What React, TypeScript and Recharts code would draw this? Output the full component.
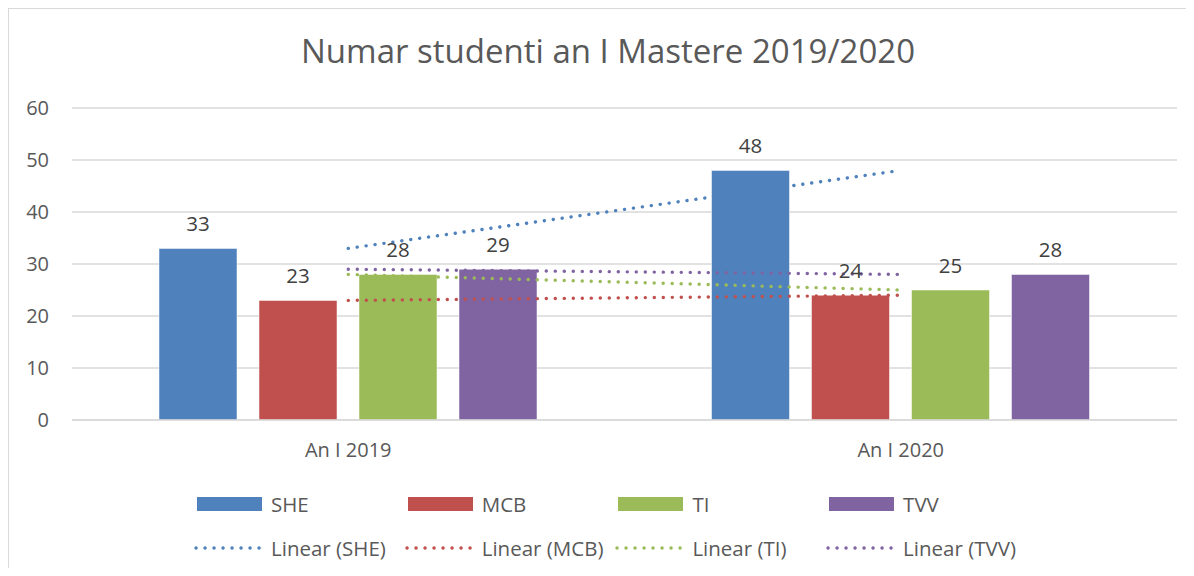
import React from 'react';
import { ComposedChart, Bar, Line, XAxis, YAxis, CartesianGrid, LabelList } from 'recharts';

const categories = ['An I 2019', 'An I 2020'];
const seriesNames = ['SHE', 'MCB', 'TI', 'TVV'];
const sheValues = [33, 48];
const mcbValues = [23, 24];
const tiValues = [28, 25];
const tvvValues = [29, 28];
const yTicks = [0, 10, 20, 30, 40, 50, 60];

const COLORS = ['#4F81BD', '#C0504D', '#9BBB59', '#8064A2']; // Office 2010 palette
const FONT = '"Open Sans", sans-serif';
const DOTS = '0.1 8.9';

// linear trend through the points (with two categories it passes through both values)
const linearFit = (vals: number[]) => {
  const n = vals.length;
  const xs = vals.map((_, i) => i + 1);
  const mx = xs.reduce((a, b) => a + b, 0) / n;
  const my = vals.reduce((a, b) => a + b, 0) / n;
  let num = 0;
  let den = 0;
  xs.forEach((x, i) => {
    num += (x - mx) * (vals[i] - my);
    den += (x - mx) * (x - mx);
  });
  const slope = den === 0 ? 0 : num / den;
  return xs.map((x) => my + slope * (x - mx));
};

const allValues = [sheValues, mcbValues, tiValues, tvvValues];
const keys = ['she', 'mcb', 'ti', 'tvv'];

const data = categories.map((cat, i) => {
  const row: Record<string, string | number> = { name: cat };
  keys.forEach((k, s) => {
    row[k] = allValues[s][i];
    row[k + 'Trend'] = linearFit(allValues[s])[i];
  });
  return row;
});

const Legend2 = () => (
  <>
    {seriesNames.map((name, i) => (
      <React.Fragment key={name}>
        <div
          style={{
            position: 'absolute',
            left: 188 + i * 210.7,
            top: 488,
            width: 65,
            height: 14,
            background: COLORS[i],
          }}
        />
        <div
          style={{
            position: 'absolute',
            left: 262 + i * 210.7,
            top: 480,
            height: 30,
            lineHeight: '30px',
            fontSize: 20.5,
            color: '#595959',
            fontFamily: FONT,
            whiteSpace: 'nowrap',
          }}
        >
          {name}
        </div>
        <svg
          style={{ position: 'absolute', left: 184 + i * 210.7, top: 533 }}
          width={70}
          height={12}
        >
          <line
            x1={3}
            y1={6}
            x2={68}
            y2={6}
            stroke={COLORS[i]}
            strokeWidth={3.4}
            strokeLinecap="round"
            strokeDasharray={DOTS}
          />
        </svg>
        <div
          style={{
            position: 'absolute',
            left: 262 + i * 210.7,
            top: 524,
            height: 30,
            lineHeight: '30px',
            fontSize: 20.5,
            color: '#595959',
            fontFamily: FONT,
            whiteSpace: 'nowrap',
          }}
        >
          {`Linear (${name})`}
        </div>
      </React.Fragment>
    ))}
  </>
);

export default function App() {
  return (
    <div style={{ width: 1178, height: 560, overflow: 'hidden' }}>
      <div
        style={{
          position: 'relative',
          width: 1186,
          height: 568,
          borderLeft: '1px solid #d9d9d9',
          borderTop: '1px solid #d9d9d9',
          boxSizing: 'border-box',
          background: '#fff',
        }}
      >
        <div
          style={{
            position: 'absolute',
            left: 0,
            width: 1198,
            top: 22,
            textAlign: 'center',
            fontFamily: FONT,
            fontSize: 33,
            color: '#595959',
            lineHeight: '40px',
          }}
        >
          Numar studenti an I Mastere 2019/2020
        </div>
        <ComposedChart
          width={1185}
          height={567}
          data={data}
          margin={{ top: 99, right: 17, left: 0, bottom: 126 }}
          barCategoryGap={87}
          barGap={22}
        >
          <CartesianGrid vertical={false} stroke="#d9d9d9" strokeWidth={1.3} />
          <XAxis
            dataKey="name"
            height={30}
            tickLine={false}
            tickSize={0}
            tickMargin={23}
            axisLine={{ stroke: '#d9d9d9', strokeWidth: 1.3 }}
            tick={{ fill: '#595959', fontSize: 20, fontFamily: FONT }}
          />
          <YAxis
            width={63}
            domain={[0, 60]}
            ticks={yTicks}
            axisLine={false}
            tickLine={false}
            tickSize={0}
            tickMargin={23}
            tick={{ fill: '#595959', fontSize: 20, fontFamily: FONT }}
          />
          {keys.map((k, i) => (
            <Bar
              key={k}
              dataKey={k}
              name={seriesNames[i]}
              fill={COLORS[i]}
              stroke="#ffffff"
              strokeOpacity={0.5}
              isAnimationActive={false}
            >
              <LabelList
                dataKey={k}
                position="top"
                offset={17}
                fill="#404040"
                fontSize={20.5}
                fontFamily={FONT}
              />
            </Bar>
          ))}
          {keys.map((k, i) => (
            <Line
              key={k + 'Trend'}
              dataKey={k + 'Trend'}
              name={`Linear (${seriesNames[i]})`}
              type="linear"
              stroke={COLORS[i]}
              strokeWidth={3.4}
              strokeLinecap="round"
              strokeDasharray={DOTS}
              dot={false}
              activeDot={false}
              isAnimationActive={false}
            />
          ))}
        </ComposedChart>
        <Legend2 />
      </div>
    </div>
  );
}
